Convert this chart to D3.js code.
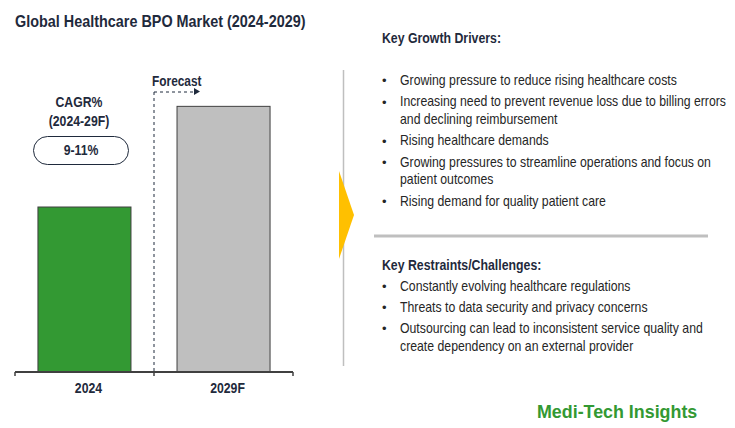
<!DOCTYPE html>
<html><head><meta charset="utf-8">
<script src="https://cdn.jsdelivr.net/npm/d3@7"></script>
<style>
html,body{margin:0;padding:0;background:#fff;}
svg{display:block;font-family:"Liberation Sans",Arial,sans-serif;}
</style></head>
<body>
<svg id="c" width="735" height="428"></svg>
<script>
const title = "Global Healthcare BPO Market (2024-2029)";
const categories = ["2024", "2029F"];
const values = [1.0, 1.61]; // relative market size index (CAGR 9-11%)
const barColors = ["#339933", "#BFBFBF"];
const cagrLabel = ["CAGR%", "(2024-29F)"];
const cagrValue = "9-11%";
const forecastLabel = "Forecast";
const driversTitle = "Key Growth Drivers:";
const drivers = [
  ["Growing pressure to reduce rising healthcare costs"],
  ["Increasing need to prevent revenue loss due to billing errors", "and declining reimbursement"],
  ["Rising healthcare demands"],
  ["Growing pressures to streamline operations and focus on", "patient outcomes"],
  ["Rising demand for quality patient care"]
];
const restraintsTitle = "Key Restraints/Challenges:";
const restraints = [
  ["Constantly evolving healthcare regulations"],
  ["Threats to data security and privacy concerns"],
  ["Outsourcing can lead to inconsistent service quality and", "create dependency on an external provider"]
];
const brand = "Medi-Tech Insights";

const svg = d3.select("#c");
const navy = "#1F2A3C";
const textCol = "#262626";
const SQ = 0.875; // horizontal condensing to mimic a narrow face

function txt(xp, yp, s, size, bold, fill, anchor, sx) {
  const t = svg.append("text").attr("x", xp).attr("y", yp).attr("font-size", size)
    .attr("font-weight", bold ? "bold" : "normal").attr("fill", fill)
    .attr("text-anchor", anchor || "start").text(s);
  const k = sx || SQ;
  t.attr("transform", `translate(${xp},0) scale(${k},1) translate(${-xp},0)`);
  return t;
}

txt(15, 27, title, 16, true, navy, "start", 0.9);

// chart
const baseY = 372;
const x = d3.scaleBand().domain(categories).range([15, 293]).paddingInner(0.331).paddingOuter(0.165);
const y = d3.scaleLinear().domain([0, 1]).range([baseY, 207]);

svg.selectAll("rect.bar").data(categories).enter().append("rect")
  .attr("class", "bar")
  .attr("x", d => x(d)).attr("width", x.bandwidth())
  .attr("y", (d, i) => y(values[i])).attr("height", (d, i) => baseY - y(values[i]))
  .attr("fill", (d, i) => barColors[i]).attr("stroke", "#404040").attr("stroke-width", 1);

// axis
const xOuter = d3.scaleLinear().domain([0, categories.length]).range([15, 293]);
const axisG = svg.append("g").attr("transform", `translate(0,${baseY})`);
axisG.append("line").attr("x1", 15).attr("x2", 293).attr("stroke", "#404040").attr("stroke-width", 2);
d3.range(categories.length + 1).forEach(i => {
  axisG.append("line").attr("x1", xOuter(i)).attr("x2", xOuter(i)).attr("y1", 0).attr("y2", 4)
    .attr("stroke", "#404040").attr("stroke-width", 1.5);
});
categories.forEach(d => {
  txt(x(d) + x.bandwidth() / 2 + 4, 393, d, 14, true, navy, "middle");
});

// forecast divider
const divX = xOuter(1);
svg.append("line").attr("x1", divX).attr("x2", divX).attr("y1", 92).attr("y2", baseY)
  .attr("stroke", navy).attr("stroke-width", 1).attr("stroke-dasharray", "3,3");
svg.append("line").attr("x1", divX).attr("x2", 194).attr("y1", 92).attr("y2", 92)
  .attr("stroke", navy).attr("stroke-width", 1).attr("stroke-dasharray", "3,3");
svg.append("path").attr("d", `M194,88 L200,91.5 L194,95 Z`).attr("fill", navy);
txt(152, 86, forecastLabel, 14, true, navy, "start", 0.85);

// CAGR
txt(79, 107, cagrLabel[0], 14, true, navy, "middle");
txt(79, 126, cagrLabel[1], 14, true, navy, "middle");
svg.append("rect").attr("x", 33.5).attr("y", 136.5).attr("width", 95).attr("height", 28).attr("rx", 14)
  .attr("fill", "#fff").attr("stroke", navy).attr("stroke-width", 1);
txt(81, 155.5, cagrValue, 14, true, navy, "middle");

// vertical separator & chevron
svg.append("line").attr("x1", 343.5).attr("x2", 343.5).attr("y1", 70).attr("y2", 366)
  .attr("stroke", "#BFBFBF").attr("stroke-width", 1.5);
svg.append("path").attr("d", "M339,171 L354,215 L339,259 Z").attr("fill", "#FFC000");

// right panel
txt(382, 43, driversTitle, 14, true, navy, "start", 0.88);

function bullets(items, startY, lineH, gap) {
  let yy = startY;
  items.forEach(lines => {
    svg.append("text").attr("x", 382).attr("y", yy).attr("font-size", 13).attr("fill", textCol).text("•");
    lines.forEach((ln, j) => {
      txt(400, yy + j * lineH, ln, 14, false, textCol, "start", 0.877);
    });
    yy += (lines.length - 1) * lineH + gap;
  });
}
bullets(drivers, 85, 17.5, 21.5);

svg.append("line").attr("x1", 374).attr("x2", 708).attr("y1", 236).attr("y2", 236)
  .attr("stroke", "#BFBFBF").attr("stroke-width", 3);

txt(382, 270, restraintsTitle, 14, true, navy, "start", 0.88);
bullets(restraints, 291, 18, 21);

txt(537, 418, brand, 19, true, "#339933", "start", 0.94);
</script>
</body></html>
